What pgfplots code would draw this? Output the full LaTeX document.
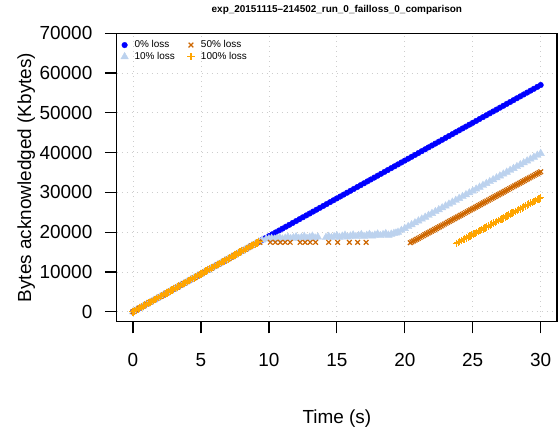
\documentclass[border=0pt]{standalone}
\usepackage{pgfplots}
\pgfplotsset{compat=1.18}
\usepackage{fontspec}
\setmainfont{Liberation Sans}
\definecolor{lblue}{RGB}{188,210,238}
\definecolor{dorange}{RGB}{205,102,0}
\definecolor{orng}{RGB}{255,165,0}
\definecolor{gridgray}{RGB}{205,205,205}
\begin{document}
\begin{tikzpicture}
\path[use as bounding box] (-116.7bp,-112.3bp) rectangle (441.3bp,321.7bp);
\begin{axis}[
  at={(0,0)}, anchor=south west,
  scale only axis, width=440.3bp, height=288.4bp,
  xmin=-1.2, xmax=31.2, ymin=-2500, ymax=70000,
  xtick={0,5,10,15,20,25,30},
  ytick={0,10000,20000,30000,40000,50000,60000,70000},
  scaled y ticks=false,
  /pgf/number format/1000 sep={},
  /pgf/number format/assume math mode=true,
  tick pos=left, tick align=outside,
  major tick length=11.7bp,
  tick style={black, line width=1.2bp},
  axis line style={black, line width=1.3bp},
  grid=major,
  major grid style={gridgray, line width=0.8bp, dash pattern=on 0.8bp off 4.2bp},
  ticklabel style={font=\fontsize{19}{22}\selectfont, inner sep=0pt},
  xticklabel style={anchor=north, yshift=-19.5bp},
  yticklabel style={anchor=east, xshift=-12.5bp},
  title={exp\_20151115\textendash 214502\_run\_0\_failloss\_0\_comparison},
  title style={at={(axis description cs:0.5,1)}, anchor=base, yshift=14.6bp, font=\bfseries\fontsize{10}{12}\selectfont, inner sep=0pt},
  xlabel={Time (s)},
  xlabel style={at={(axis description cs:0.5,0)}, anchor=base, yshift=-101.6bp, font=\fontsize{19}{22}\selectfont, inner sep=0pt},
  ylabel={Bytes acknowledged (Kbytes)},
  ylabel style={at={(axis description cs:-0.1946,0.5)}, anchor=base, font=\fontsize{19}{22}\selectfont, inner sep=0pt},
  legend columns=2, transpose legend,
  legend cell align=left,
  legend image code/.code={\draw[#1] plot coordinates {(0bp,0bp)};},
  legend style={at={(axis description cs:0,1)}, anchor=north west,
    xshift=4bp, yshift=-6bp,
    draw=none, fill=none, inner sep=0pt, row sep=0.5bp,
    font=\fontsize{10}{12}\selectfont,
    nodes={inner sep=1.2bp},
    /tikz/every odd column/.style={column sep=5bp},
    /tikz/every even column/.style={column sep=11bp}},
]
\addplot[only marks, mark=*, color=blue, mark size=2.8bp, mark options={draw=none, fill=blue}] table {
0 0
0.25 475
0.5 950
0.75 1425
1 1900
1.25 2375
1.5 2850
1.75 3325
2 3800
2.25 4275
2.5 4750
2.75 5225
3 5700
3.25 6175
3.5 6650
3.75 7125
4 7600
4.25 8075
4.5 8550
4.75 9025
5 9500
5.25 9975
5.5 10450
5.75 10925
6 11400
6.25 11875
6.5 12350
6.75 12825
7 13300
7.25 13775
7.5 14250
7.75 14725
8 15200
8.25 15675
8.5 16150
8.75 16625
9 17100
9.25 17575
9.5 18050
9.75 18525
10 19000
10.25 19475
10.5 19950
10.75 20425
11 20900
11.25 21375
11.5 21850
11.75 22325
12 22800
12.25 23275
12.5 23750
12.75 24225
13 24700
13.25 25175
13.5 25650
13.75 26125
14 26600
14.25 27075
14.5 27550
14.75 28025
15 28500
15.25 28975
15.5 29450
15.75 29925
16 30400
16.25 30875
16.5 31350
16.75 31825
17 32300
17.25 32775
17.5 33250
17.75 33725
18 34200
18.25 34675
18.5 35150
18.75 35625
19 36100
19.25 36575
19.5 37050
19.75 37525
20 38000
20.25 38475
20.5 38950
20.75 39425
21 39900
21.25 40375
21.5 40850
21.75 41325
22 41800
22.25 42275
22.5 42750
22.75 43225
23 43700
23.25 44175
23.5 44650
23.75 45125
24 45600
24.25 46075
24.5 46550
24.75 47025
25 47500
25.25 47975
25.5 48450
25.75 48925
26 49400
26.25 49875
26.5 50350
26.75 50825
27 51300
27.25 51775
27.5 52250
27.75 52725
28 53200
28.25 53675
28.5 54150
28.75 54625
29 55100
29.25 55575
29.5 56050
29.75 56525
30 57000
};
\addlegendentry{0\% loss}
\addplot[only marks, mark=triangle*, color=lblue, mark size=4.3bp, mark options={draw=none, fill=lblue}] table {
0 0
0.25 475
0.5 950
0.75 1425
1 1900
1.25 2375
1.5 2850
1.75 3325
2 3800
2.25 4275
2.5 4750
2.75 5225
3 5700
3.25 6175
3.5 6650
3.75 7125
4 7600
4.25 8075
4.5 8550
4.75 9025
5 9500
5.25 9975
5.5 10450
5.75 10925
6 11400
6.25 11875
6.5 12350
6.75 12825
7 13300
7.25 13775
7.5 14250
7.75 14725
8 15200
8.25 15675
8.5 16150
8.75 16625
9 17100
9.25 17575
9.5 18050
9.8 18300
10.0 18350
10.2 18450
10.4 18250
10.6 18450
10.8 18650
11.0 18300
11.2 18500
11.4 18750
11.6 18400
11.8 18600
12.0 18850
12.2 18450
12.4 18700
12.6 18950
12.8 18500
13.0 18750
13.2 19000
13.4 18550
13.6 18800
14.2 18700
14.4 18950
14.6 18650
14.8 18900
15.0 19150
15.2 18750
15.4 19000
15.6 19250
15.8 18800
16.0 19050
16.2 19300
16.4 18900
16.6 19150
16.8 19400
17.0 18950
17.2 19200
17.4 19450
17.6 19050
17.8 19300
18.0 19550
18.2 19150
18.4 19400
18.6 19650
18.8 19250
19.0 19500
19.2 19700
19.35 19800
19.5 20000
19.75 20471
20 20943
20.25 21414
20.5 21886
20.75 22357
21 22829
21.25 23300
21.5 23771
21.75 24243
22 24714
22.25 25186
22.5 25657
22.75 26129
23 26600
23.25 27071
23.5 27543
23.75 28014
24 28486
24.25 28957
24.5 29429
24.75 29900
25 30371
25.25 30843
25.5 31314
25.75 31786
26 32257
26.25 32729
26.5 33200
26.75 33671
27 34143
27.25 34614
27.5 35086
27.75 35557
28 36029
28.25 36500
28.5 36971
28.75 37443
29 37914
29.25 38386
29.5 38857
29.75 39329
30 39800
};
\addlegendentry{10\% loss}
\addplot[only marks, mark=x, color=dorange, mark size=3.3bp, mark options={line width=1.2bp}] table {
0 0
0.25 475
0.5 950
0.75 1425
1 1900
1.25 2375
1.5 2850
1.75 3325
2 3800
2.25 4275
2.5 4750
2.75 5225
3 5700
3.25 6175
3.5 6650
3.75 7125
4 7600
4.25 8075
4.5 8550
4.75 9025
5 9500
5.25 9975
5.5 10450
5.75 10925
6 11400
6.25 11875
6.5 12350
6.75 12825
7 13300
7.25 13775
7.5 14250
7.75 14725
8 15200
8.25 15675
8.5 16150
8.75 16625
9 17100
9.25 17575
9.33 17450
10.1 17450
10.47 17450
10.84 17450
11.2 17450
11.57 17450
12.3 17450
12.67 17450
13.04 17450
13.43 17450
14.4 17450
15.06 17450
15.92 17450
16.53 17450
17.15 17450
20.40 17350
20.52 17573
20.64 17796
20.76 18019
20.88 18243
21.00 18466
21.12 18689
21.24 18912
21.36 19135
21.48 19358
21.60 19581
21.72 19804
21.84 20028
21.96 20251
22.08 20474
22.20 20697
22.32 20920
22.44 21143
22.56 21366
22.68 21589
22.80 21813
22.92 22036
23.04 22259
23.16 22482
23.28 22705
23.40 22928
23.52 23151
23.64 23374
23.76 23598
23.88 23821
24.00 24044
24.12 24267
24.24 24490
24.36 24713
24.48 24936
24.60 25159
24.72 25383
24.84 25606
24.96 25829
25.08 26052
25.20 26275
25.32 26498
25.44 26721
25.56 26944
25.68 27168
25.80 27391
25.92 27614
26.04 27837
26.16 28060
26.28 28283
26.40 28506
26.52 28729
26.64 28953
26.76 29176
26.88 29399
27.00 29622
27.12 29845
27.24 30068
27.36 30291
27.48 30514
27.60 30738
27.72 30961
27.84 31184
27.96 31407
28.08 31630
28.20 31853
28.32 32076
28.44 32299
28.56 32523
28.68 32746
28.80 32969
28.92 33192
29.04 33415
29.16 33638
29.28 33861
29.40 34084
29.52 34308
29.64 34531
29.76 34754
29.88 34977
30.00 35200
};
\addlegendentry{50\% loss}
\addplot[only marks, mark=+, color=orng, mark size=3.8bp, mark options={line width=1.2bp}] table {
0 0
0.125 238
0.25 475
0.375 713
0.5 950
0.625 1188
0.75 1425
0.875 1663
1 1900
1.125 2138
1.25 2375
1.375 2613
1.5 2850
1.625 3088
1.75 3325
1.875 3563
2 3800
2.125 4038
2.25 4275
2.375 4513
2.5 4750
2.625 4988
2.75 5225
2.875 5463
3 5700
3.125 5938
3.25 6175
3.375 6413
3.5 6650
3.625 6888
3.75 7125
3.875 7363
4 7600
4.125 7838
4.25 8075
4.375 8313
4.5 8550
4.625 8788
4.75 9025
4.875 9263
5 9500
5.125 9738
5.25 9975
5.375 10213
5.5 10450
5.625 10688
5.75 10925
5.875 11163
6 11400
6.125 11638
6.25 11875
6.375 12113
6.5 12350
6.625 12588
6.75 12825
6.875 13063
7 13300
7.125 13538
7.25 13775
7.375 14013
7.5 14250
7.625 14488
7.75 14725
7.875 14963
8 15200
8.125 15438
8.25 15675
8.375 15913
8.5 16150
8.625 16388
8.75 16625
8.875 16863
9 17100
9.125 17338
9.25 17575
23.800 17200
23.924 17429
24.048 17658
24.172 17887
24.296 18116
24.420 18345
24.544 18574
24.668 18803
24.792 19032
24.916 19261
25.040 19490
25.164 19719
25.288 19948
25.412 20177
25.536 20406
25.660 20635
25.784 20864
25.908 21093
26.032 21322
26.156 21551
26.280 21780
26.404 22009
26.528 22238
26.652 22467
26.776 22696
26.900 22925
27.024 23154
27.148 23383
27.272 23612
27.396 23841
27.520 24070
27.644 24299
27.768 24528
27.892 24757
28.016 24986
28.140 25215
28.264 25444
28.388 25673
28.512 25902
28.636 26131
28.760 26360
28.884 26589
29.008 26818
29.132 27047
29.256 27276
29.380 27505
29.504 27734
29.628 27963
29.752 28192
29.876 28421
30.000 28650
};
\addlegendentry{100\% loss}
\end{axis}
\end{tikzpicture}
\end{document}
